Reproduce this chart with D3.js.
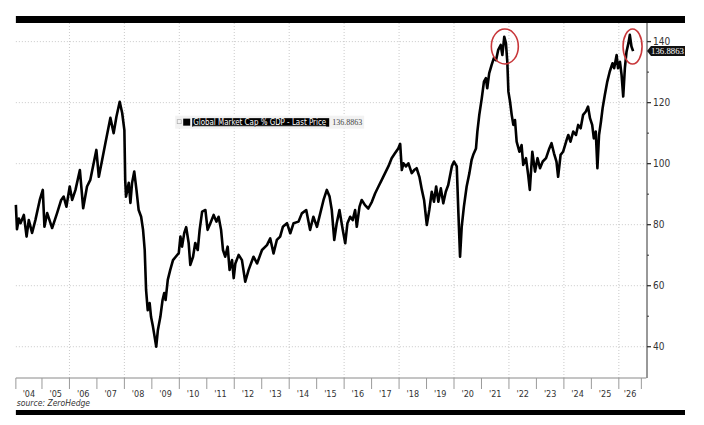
<!DOCTYPE html>
<html lang="en">
<head>
  <title>Global Market Cap % GDP</title>
  <meta charset="utf-8">
<style>
body {
  margin: 0;
  background: #fff;
}
#app svg {
  display: block;
}
.tick-label {
  font-family: "Liberation Sans Narrow", "DejaVu Sans Condensed", "Liberation Sans", sans-serif;
  fill: #333;
}
</style>
</head>
<body>
<div id="app"></div>
<script src="https://d3js.org/d3.v7.min.js"></script>
<script>
// readings: decimal year / market cap as % of GDP
const years = [
  2004.05, 2004.09, 2004.16, 2004.22, 2004.34, 2004.44, 2004.52, 2004.64, 2004.76, 2004.92,
  2005.03, 2005.09, 2005.19, 2005.37, 2005.55, 2005.70, 2005.79, 2005.89, 2006.01, 2006.10,
  2006.22, 2006.38, 2006.50, 2006.64, 2006.76, 2006.98, 2007.07, 2007.19, 2007.31, 2007.49,
  2007.61, 2007.71, 2007.83, 2007.92, 2008.00, 2008.03, 2008.06, 2008.16, 2008.22, 2008.28,
  2008.36, 2008.44, 2008.52, 2008.61, 2008.68, 2008.74, 2008.79, 2008.85, 2008.92, 2008.97,
  2009.04, 2009.10, 2009.16, 2009.22, 2009.31, 2009.39, 2009.45, 2009.50, 2009.58, 2009.67,
  2009.77, 2009.87, 2009.98, 2010.04, 2010.10, 2010.18, 2010.25, 2010.34, 2010.40, 2010.50,
  2010.58, 2010.67, 2010.74, 2010.83, 2010.95, 2011.03, 2011.13, 2011.25, 2011.35, 2011.43,
  2011.52, 2011.59, 2011.67, 2011.76, 2011.83, 2011.92, 2011.98, 2012.04, 2012.16, 2012.28,
  2012.40, 2012.52, 2012.70, 2012.83, 2013.01, 2013.19, 2013.31, 2013.43, 2013.55, 2013.67,
  2013.77, 2013.92, 2014.04, 2014.16, 2014.34, 2014.46, 2014.62, 2014.76, 2014.88, 2015.01,
  2015.13, 2015.25, 2015.37, 2015.47, 2015.55, 2015.64, 2015.73, 2015.83, 2015.95, 2016.04,
  2016.12, 2016.22, 2016.31, 2016.40, 2016.46, 2016.56, 2016.64, 2016.76, 2016.88, 2017.01,
  2017.13, 2017.25, 2017.37, 2017.49, 2017.61, 2017.73, 2017.85, 2017.97, 2018.04, 2018.10,
  2018.16, 2018.25, 2018.34, 2018.46, 2018.55, 2018.64, 2018.74, 2018.83, 2018.91, 2019.01,
  2019.10, 2019.19, 2019.27, 2019.35, 2019.43, 2019.52, 2019.61, 2019.70, 2019.79, 2019.92,
  2020.00, 2020.10, 2020.16, 2020.22, 2020.28, 2020.36, 2020.46, 2020.56, 2020.64, 2020.70,
  2020.80, 2020.85, 2020.92, 2021.01, 2021.09, 2021.16, 2021.21, 2021.28, 2021.37, 2021.45,
  2021.53, 2021.61, 2021.70, 2021.76, 2021.83, 2021.89, 2021.94, 2021.98, 2022.04, 2022.10,
  2022.16, 2022.22, 2022.28, 2022.38, 2022.46, 2022.52, 2022.62, 2022.70, 2022.76, 2022.85,
  2022.95, 2023.04, 2023.13, 2023.23, 2023.35, 2023.47, 2023.55, 2023.64, 2023.73, 2023.79,
  2023.88, 2023.97, 2024.10, 2024.16, 2024.24, 2024.34, 2024.44, 2024.52, 2024.61, 2024.70,
  2024.80, 2024.88, 2024.95, 2025.03, 2025.09, 2025.16, 2025.22, 2025.28, 2025.35, 2025.41,
  2025.49, 2025.58, 2025.67, 2025.77, 2025.83, 2025.92, 2025.97, 2026.04, 2026.10, 2026.16,
  2026.22, 2026.28, 2026.35, 2026.40, 2026.46, 2026.52
]
const values = [
  86.5, 78.5, 82.0, 80.5, 83.2, 76.1, 81.5, 77.3, 81.5, 88.1,
  91.4, 79.3, 83.8, 78.9, 83.8, 88.1, 89.2, 85.9, 92.5, 88.1,
  91.4, 97.9, 85.4, 92.5, 94.7, 104.5, 95.7, 101.2, 106.8, 115.0,
  110.0, 115.4, 120.3, 116.6, 111.0, 94.7, 89.2, 93.7, 87.1, 93.7,
  97.4, 91.4, 84.8, 82.6, 78.3, 71.7, 58.6, 52.0, 54.3, 49.8,
  46.6, 43.3, 40.0, 45.5, 49.8, 55.3, 57.6, 55.3, 61.9, 65.2,
  68.4, 69.5, 70.7, 76.1, 72.8, 77.3, 79.2, 74.0, 66.8, 69.5,
  74.0, 71.7, 78.3, 84.3, 84.8, 78.3, 80.5, 83.2, 81.0, 82.6,
  78.3, 71.7, 69.5, 72.8, 65.2, 68.4, 62.5, 67.3, 70.1, 68.4,
  61.3, 65.1, 69.5, 67.3, 71.7, 73.3, 75.5, 70.6, 75.0, 76.1,
  79.3, 80.5, 77.2, 80.5, 81.0, 83.7, 84.8, 78.3, 82.6, 79.3,
  83.7, 88.1, 91.4, 89.2, 84.8, 75.0, 80.5, 84.8, 78.3, 73.9,
  80.5, 82.6, 81.5, 84.8, 79.3, 85.9, 88.1, 86.4, 85.3, 87.5,
  90.3, 92.5, 94.7, 96.9, 99.1, 101.8, 103.4, 105.0, 106.5, 97.9,
  100.1, 99.1, 100.1, 96.9, 97.9, 98.5, 95.7, 91.4, 88.1, 79.9,
  84.8, 90.8, 87.5, 92.5, 87.5, 91.9, 87.0, 90.8, 93.0, 99.1,
  100.7, 99.1, 83.7, 69.5, 79.3, 85.9, 92.5, 96.9, 101.2, 102.9,
  105.0, 110.5, 116.0, 121.4, 126.9, 128.0, 124.7, 129.6, 132.4, 134.6,
  133.9, 137.3, 138.9, 135.6, 141.6, 139.5, 133.4, 123.6, 120.3, 116.0,
  112.7, 114.3, 107.2, 103.9, 106.1, 99.6, 101.8, 96.3, 91.4, 103.9,
  97.4, 101.8, 98.5, 100.7, 101.8, 105.0, 106.7, 103.4, 100.7, 95.7,
  102.9, 103.9, 107.8, 109.4, 107.2, 110.5, 109.4, 112.7, 111.6, 116.0,
  117.1, 118.7, 114.9, 112.7, 108.3, 110.5, 98.5, 109.4, 113.8, 118.2,
  122.5, 126.9, 130.2, 132.9, 131.3, 135.6, 131.3, 133.4, 129.1, 122.0,
  131.3, 136.7, 139.5, 142.2, 138.4, 136.8863
]
const lastPrice = "136.8863"
const seriesName = "Global Market Cap % GDP - Last Price"

const yearLabels = ["'04","'05","'06","'07","'08","'09","'10","'11","'12","'13","'14","'15",
  "'16","'17","'18","'19","'20","'21","'22","'23","'24","'25","'26"]
const firstYear = 2004
const axisStart = 2004.05, axisEnd = 2026.82
const gridYears = [2006, 2008, 2010, 2012, 2014, 2016, 2018, 2020, 2022, 2024, 2026]
const yTicks = [40, 60, 80, 100, 120, 140]
const yMinorTicks = [50, 70, 90, 110, 130]

// circled highs
const circleYears = [2021.85, 2026.5]
const circleValues = [138.4, 138.4]
const circleRx = [13.5, 9.5]

const width = 704, height = 425
const margin = {top: 23, right: 57.7, bottom: 47, left: 14.5}

const x = d3.scaleLinear()
    .domain([firstYear, 2027])
    .range([margin.left, width - margin.right])
const y = d3.scaleLinear()
    .domain([29.75, 146.1])
    .range([height - margin.bottom, margin.top])

const svg = d3.select("#app").append("svg")
    .attr("width", width)
    .attr("height", height)
    .attr("viewBox", [0, 0, width, height])

const plotLeft = x(axisStart), plotRight = x(2027)
const plotTop = y.range()[1], plotBottom = y.range()[0]

// header / footer bars
svg.append("rect")
    .attr("x", plotLeft).attr("y", 16)
    .attr("width", 685 - plotLeft).attr("height", 7)
    .attr("fill", "#000")
svg.append("rect")
    .attr("x", plotLeft).attr("y", 410)
    .attr("width", 685 - plotLeft).attr("height", 5)
    .attr("fill", "#000")

// grid
const grid = svg.append("g")
    .attr("stroke", "#bdbdbd")
    .attr("stroke-width", 0.8)
    .attr("stroke-dasharray", "1,2")
grid.selectAll("line.h")
  .data(yTicks)
  .join("line")
    .attr("class", "h")
    .attr("x1", plotLeft).attr("x2", plotRight)
    .attr("y1", d => y(d)).attr("y2", d => y(d))
grid.selectAll("line.v")
  .data(gridYears)
  .join("line")
    .attr("class", "v")
    .attr("x1", d => x(d)).attr("x2", d => x(d))
    .attr("y1", plotTop).attr("y2", plotBottom)

// x axis: year separators with labels centred in each year
const xAxis = svg.append("g")
xAxis.append("line")
    .attr("x1", plotLeft).attr("x2", plotRight)
    .attr("y1", plotBottom).attr("y2", plotBottom)
    .attr("stroke", "#8a8a8a")
const seps = [axisStart, ...d3.range(2005, 2027), axisEnd]
xAxis.selectAll("line.sep")
  .data(seps)
  .join("line")
    .attr("class", "sep")
    .attr("x1", d => x(d)).attr("x2", d => x(d))
    .attr("y1", plotBottom).attr("y2", plotBottom + 11)
    .attr("stroke", "#9a9a9a")
xAxis.selectAll("text")
  .data(yearLabels)
  .join("text")
    .attr("class", "tick-label")
    .attr("x", (d, i) => {
      const a = Math.max(firstYear + i, axisStart), b = Math.min(firstYear + i + 1, axisEnd)
      return x((a + b) / 2)
    })
    .attr("y", plotBottom + 19)
    .attr("text-anchor", "middle")
    .attr("font-size", 9)
    .text(d => d)

svg.append("text")
    .attr("class", "tick-label")
    .attr("x", plotLeft + 1)
    .attr("y", 406)
    .attr("font-size", 8.5)
    .attr("font-style", "italic")
    .text("source: ZeroHedge")

// right axis
const yAxis = svg.append("g")
    .attr("transform", `translate(${plotRight + 0.7},0)`)
yAxis.append("line")
    .attr("y1", plotTop).attr("y2", plotBottom)
    .attr("stroke", "#333")
yAxis.selectAll("line.major")
  .data(yTicks)
  .join("line")
    .attr("class", "major")
    .attr("x2", 4)
    .attr("y1", d => y(d)).attr("y2", d => y(d))
    .attr("stroke", "#333")
    .attr("stroke-width", 1.3)
yAxis.selectAll("line.minor")
  .data(yMinorTicks)
  .join("line")
    .attr("class", "minor")
    .attr("x2", 2)
    .attr("y1", d => y(d)).attr("y2", d => y(d))
    .attr("stroke", "#333")
yAxis.selectAll("text")
  .data(yTicks)
  .join("text")
    .attr("class", "tick-label")
    .attr("x", 6)
    .attr("y", d => y(d))
    .attr("dy", "0.35em")
    .attr("font-size", 10)
    .text(d => d)

// series line
const line = d3.line()
    .x((d, i) => x(years[i]))
    .y(d => y(d))
svg.append("path")
    .datum(values)
    .attr("fill", "none")
    .attr("stroke", "#000")
    .attr("stroke-width", 2.6)
    .attr("stroke-linejoin", "round")
    .attr("d", line)

// red circles
svg.selectAll("ellipse")
  .data(circleYears)
  .join("ellipse")
    .attr("cx", d => x(d))
    .attr("cy", (d, i) => y(circleValues[i]))
    .attr("rx", (d, i) => circleRx[i])
    .attr("ry", 17.5)
    .attr("fill", "none")
    .attr("stroke", "#c8373a")
    .attr("stroke-width", 1.6)

// last price tag
const ly = y(values[values.length - 1])
const tag = svg.append("g")
    .attr("transform", `translate(${plotRight + 0.7},${ly})`)
tag.append("path")
    .attr("d", "M0,0 L4,-5 L38,-5 L38,5 L4,5 Z")
    .attr("fill", "#111")
tag.append("text")
    .attr("x", 4)
    .attr("dy", "0.35em")
    .attr("font-family", "Liberation Serif, serif")
    .attr("font-size", 9)
    .attr("fill", "#fff")
    .attr("textLength", 33)
    .attr("lengthAdjust", "spacingAndGlyphs")
    .text(lastPrice)

// legend
const legend = svg.append("g")
    .attr("transform", `translate(${x(2009.85)},${y(100) - 48})`)
legend.append("rect")
    .attr("width", 189).attr("height", 13)
    .attr("fill", "#f2f2f2")
legend.append("rect")
    .attr("x", 2).attr("y", 4).attr("width", 4).attr("height", 4)
    .attr("fill", "none").attr("stroke", "#aaa").attr("stroke-width", 0.7)
legend.append("rect")
    .attr("x", 8).attr("y", 3).attr("width", 7).attr("height", 7)
    .attr("fill", "#000")
legend.append("rect")
    .attr("x", 17).attr("y", 2.5).attr("width", 137).attr("height", 8.5)
    .attr("fill", "#000")
legend.append("text")
    .attr("x", 18).attr("y", 9.2)
    .attr("font-family", "Liberation Sans Narrow, DejaVu Sans Condensed, sans-serif")
    .attr("font-size", 8)
    .attr("fill", "#fff")
    .attr("text-decoration", "underline")
    .attr("textLength", 133)
    .attr("lengthAdjust", "spacingAndGlyphs")
    .text(seriesName)
legend.append("text")
    .attr("x", 157).attr("y", 9.8)
    .attr("font-family", "Liberation Serif, serif")
    .attr("font-size", 8.5)
    .attr("fill", "#444")
    .attr("textLength", 30)
    .attr("lengthAdjust", "spacingAndGlyphs")
    .text(lastPrice)
</script>
</body>
</html>
